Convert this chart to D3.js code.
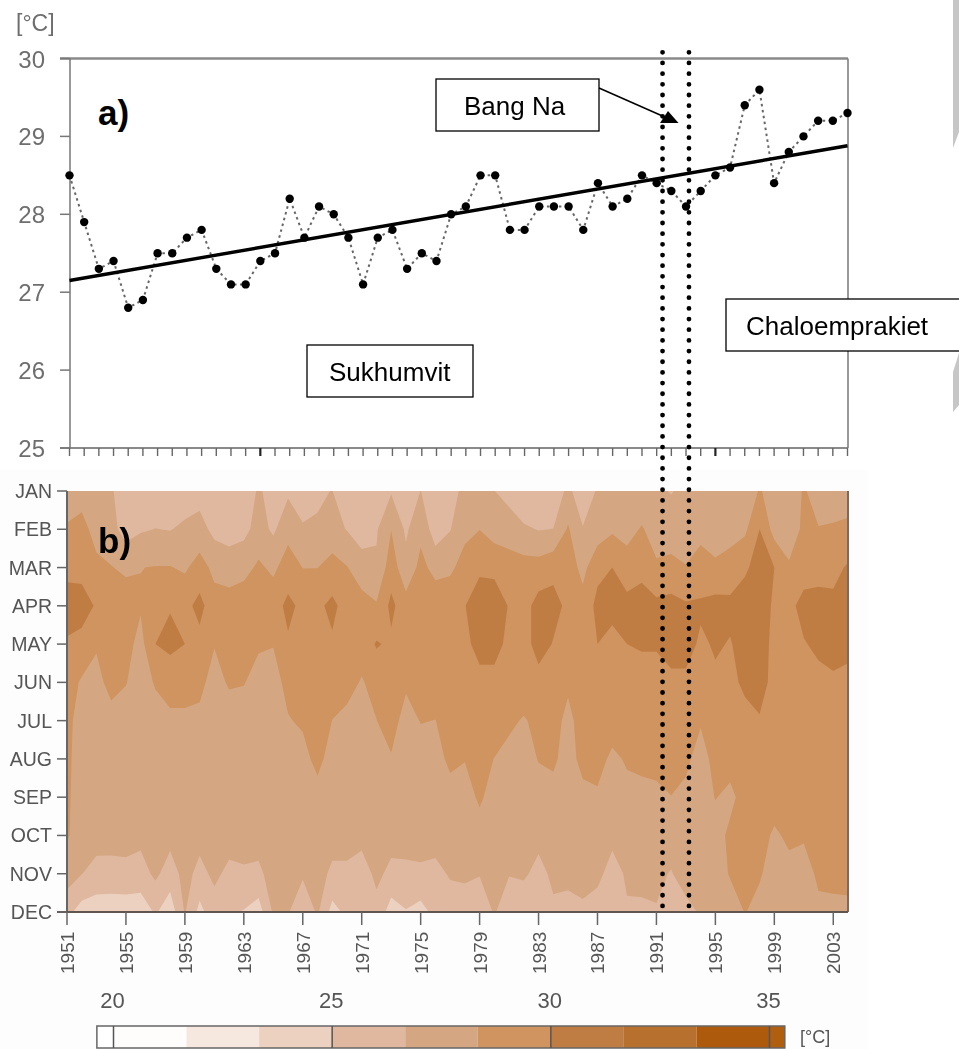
<!DOCTYPE html>
<html>
<head>
<meta charset="utf-8">
<script src="https://cdn.jsdelivr.net/npm/d3@7"></script>
<style>
  html, body { margin: 0; padding: 0; background: #fff; }
  svg { display: block; font-family: "Liberation Sans", Arial, sans-serif; }
  .soft { filter: blur(0.45px); }
</style>
</head>
<body>
<svg id="chart" width="959" height="1049"></svg>
<script>
// annual mean temperature, 1951-2004
var annualTemp = [28.5, 27.9, 27.3, 27.4, 26.8, 26.9, 27.5, 27.5, 27.7, 27.8,
    27.3, 27.1, 27.1, 27.4, 27.5, 28.2, 27.7, 28.1, 28.0, 27.7,
    27.1, 27.7, 27.8, 27.3, 27.5, 27.4, 28.0, 28.1, 28.5, 28.5,
    27.8, 27.8, 28.1, 28.1, 28.1, 27.8, 28.4, 28.1, 28.2, 28.5,
    28.4, 28.3, 28.1, 28.3, 28.5, 28.6, 29.4, 29.6, 28.4, 28.8,
    29.0, 29.2, 29.2, 29.3];
var trendYears = [1951, 2004];
var trendValues = [27.15, 28.88];
var yTicksA = [25, 26, 27, 28, 29, 30];
var heavyTicks = [1964, 1995];
var eventYears = [1991.4, 1993.2];

var months = ["JAN", "FEB", "MAR", "APR", "MAY", "JUN", "JUL", "AUG", "SEP", "OCT", "NOV", "DEC"];
var yearTicks = [1951, 1955, 1959, 1963, 1967, 1971, 1975, 1979, 1983, 1987, 1991, 1995, 1999, 2003];

// monthly temperature, one line per year (JAN..DEC)
var monthlyTemp = [
    [27.5,28.5,29.5,30.8,29.8,29.2,28.8,28.7,28.6,28.5,27.5,25.5],
    [27.5,29.0,29.7,30.4,29.7,28.1,27.6,27.5,27.5,27.5,26.7,24.3],
    [27.2,27.6,28.8,29.9,28.5,27.8,27.5,27.4,27.4,27.2,26.2,24.0],
    [27.0,27.2,28.4,29.7,29.8,28.9,27.7,27.4,27.4,27.3,26.1,24.0],
    [25.0,26.0,28.0,29.3,28.9,28.4,27.6,27.4,27.4,27.3,26.2,24.0],
    [25.3,26.5,28.3,28.5,27.8,27.5,27.5,27.4,27.4,27.1,26.0,24.0],
    [25.7,26.7,28.4,29.7,30.0,28.5,27.6,27.5,27.5,27.3,27.0,25.2],
    [25.5,26.6,28.4,29.9,30.4,29.0,28.0,27.5,27.5,27.2,25.9,24.0],
    [25.7,27.0,28.1,29.5,30.0,28.8,28.1,27.5,27.5,27.3,27.2,26.8],
    [26.0,27.3,29.0,30.5,29.5,28.7,28.0,27.6,27.5,27.2,26.2,24.5],
    [25.5,26.2,27.9,29.0,28.4,27.8,27.5,27.5,27.5,27.3,27.0,26.0],
    [25.4,25.9,27.6,29.0,29.1,28.5,27.6,27.5,27.5,27.3,26.3,25.2],
    [25.0,26.2,27.8,29.3,29.5,28.4,27.6,27.5,27.5,27.2,26.5,24.9],
    [27.0,27.3,28.6,29.4,28.5,27.8,27.5,27.5,27.5,27.2,26.4,24.2],
    [25.7,26.4,28.0,29.3,28.4,27.6,27.5,27.5,27.5,27.3,27.2,26.9],
    [26.4,27.8,29.1,30.4,29.8,28.9,28.2,27.5,27.5,27.3,27.2,26.8],
    [25.6,26.9,28.3,29.6,29.7,29.2,28.6,27.7,27.5,27.3,26.9,25.4],
    [26.5,26.8,28.3,29.7,29.9,29.5,29.5,28.9,27.6,27.4,27.2,26.9],
    [26.7,27.2,29.0,30.35,29.8,29.3,28.3,27.5,27.5,27.2,26.4,24.4],
    [25.6,26.6,28.4,29.4,29.4,28.9,27.9,27.5,27.5,27.2,26.4,25.4],
    [25.0,25.9,27.4,29.0,29.0,28.2,27.6,27.5,27.5,27.1,26.0,25.2],
    [25.3,26.5,26.9,28.5,30.15,28.9,28.3,27.5,27.5,27.2,27.0,26.2],
    [26.5,28.3,29.2,30.4,29.7,29.1,29.0,28.2,27.6,27.2,26.3,24.2],
    [25.3,26.4,27.2,29.0,29.5,28.6,27.7,27.5,27.5,27.3,26.3,24.9],
    [26.7,27.9,28.8,29.5,29.5,29.1,28.4,27.6,27.5,27.3,26.4,24.4],
    [25.3,25.8,27.8,29.4,29.6,29.3,28.3,27.7,27.5,27.2,26.3,25.5],
    [26.2,26.6,28.0,29.5,29.7,29.4,29.1,28.7,27.7,27.3,26.8,26.0],
    [27.0,27.9,29.0,29.95,29.5,29.3,28.6,28.4,27.6,27.2,26.9,26.0],
    [26.7,28.3,29.7,30.9,30.7,29.4,29.2,28.8,28.6,27.6,26.8,25.0],
    [26.7,27.6,29.6,30.9,30.7,29.4,29.1,28.3,27.6,27.3,27.2,26.9],
    [26.0,27.6,29.0,29.9,29.5,29.3,28.6,27.9,27.6,27.3,26.8,25.0],
    [25.4,26.9,29.0,29.4,29.2,29.2,28.2,27.7,27.5,27.3,27.0,25.1],
    [25.2,26.6,29.0,30.6,30.8,29.3,28.7,28.4,27.7,27.3,26.0,25.0],
    [25.2,26.7,29.5,30.6,29.9,29.4,28.9,28.6,27.8,27.3,27.1,26.3],
    [27.2,28.5,29.3,29.6,29.6,28.6,27.9,27.7,27.5,27.3,27.1,26.1],
    [25.3,26.8,27.8,29.0,29.7,29.4,29.0,28.8,27.9,27.4,27.2,26.4],
    [26.9,27.4,29.6,30.4,30.0,29.6,29.3,28.9,28.1,27.4,27.1,25.9],
    [26.9,28.1,30.0,30.3,29.7,29.3,29.1,28.0,27.5,27.1,26.0,25.1],
    [27.0,27.6,29.3,30.4,30.0,29.4,29.0,28.5,27.9,27.3,26.9,26.5],
    [27.0,28.5,29.6,30.6,30.1,29.6,29.1,28.6,28.0,27.4,27.1,26.4],
    [26.9,27.5,28.6,30.4,30.1,29.6,29.3,28.9,27.9,27.2,26.9,26.6],
    [26.6,27.3,28.9,30.5,30.7,29.6,29.4,29.0,28.3,27.2,26.6,25.3],
    [27.0,27.5,28.4,30.2,30.7,29.6,29.5,28.7,27.9,27.4,27.2,26.3],
    [27.3,28.0,28.8,30.3,29.7,29.6,28.5,27.6,27.4,27.3,27.1,26.8],
    [27.2,27.0,28.8,30.5,30.2,29.7,29.3,28.9,28.4,27.6,27.3,27.1],
    [27.4,27.7,29.0,30.4,29.9,29.6,29.3,29.0,27.9,28.7,28.5,27.2],
    [26.9,28.0,29.8,30.6,30.6,30.3,29.5,29.2,29.0,28.9,28.7,28.4],
    [28.5,30.0,30.5,31.0,30.7,30.5,29.9,29.5,29.2,28.9,28.5,27.8],
    [27.5,27.7,30.0,29.7,29.6,29.6,29.4,29.3,29.0,28.1,27.6,26.8],
    [27.3,27.6,28.5,29.6,29.3,29.6,29.5,29.3,29.0,28.6,27.9,27.3],
    [28.5,28.6,29.3,30.5,29.9,29.5,29.4,29.3,29.0,28.5,27.7,27.0],
    [27.6,28.4,29.5,30.5,30.3,29.6,29.4,29.3,29.1,28.8,28.6,28.0],
    [27.5,28.5,29.5,30.4,30.7,29.7,29.5,29.4,29.2,29.0,28.8,27.9],
    [27.7,28.6,30.2,30.7,30.4,29.6,29.5,29.4,29.3,29.2,28.9,27.9]
];

// colour classes, lower edges of legend boxes
var legendBreaks = [19.62, 20, 21.67, 23.33, 25, 26.67, 28.33, 30, 31.67, 33.33, 35, 35.35];
var legendColors = ["#ffffff", "#fffdfc", "#f6e8df", "#ecd1c0", "#dfb89f", "#d4a782", "#cf945f", "#c07d43", "#b8702e", "#ad5a0c", "#b05e10"];
var legendTicks = [20, 25, 30, 35];

var svg = d3.select("#chart");

// leftovers of the scanned page
svg.append("rect").attr("x", 0).attr("y", 470).attr("width", 868).attr("height", 579).attr("fill", "#fdfdfd");
svg.append("path").attr("d", "M953,0H959V132L953,148Z").attr("fill", "#c6c6c6");
svg.append("path").attr("d", "M953,372L959,353V405L953,412Z").attr("fill", "#c6c6c6");

// ---- panel a
var xA = d3.scaleLinear().domain([1951, 2004]).range([69.5, 847.5]);
var yA = d3.scaleLinear().domain([25, 30]).range([448, 58.5]);

var a = svg.append("g").attr("class", "panel-a");
var axA = a.append("g").attr("class", "soft");

axA.append("line").attr("x1", 60).attr("x2", 848).attr("y1", yA(30)).attr("y2", yA(30))
    .attr("stroke", "#8a8a8a").attr("stroke-width", 2.5);
axA.append("line").attr("x1", 60).attr("x2", 848).attr("y1", yA(25)).attr("y2", yA(25))
    .attr("stroke", "#8a8a8a").attr("stroke-width", 2);
axA.append("line").attr("x1", 70).attr("x2", 70).attr("y1", yA(30)).attr("y2", yA(25))
    .attr("stroke", "#777").attr("stroke-width", 1.5);
axA.append("line").attr("x1", 848).attr("x2", 848).attr("y1", yA(30)).attr("y2", yA(25))
    .attr("stroke", "#777").attr("stroke-width", 1.5);

axA.selectAll(".ytick").data(yTicksA).enter().append("line")
    .attr("x1", 60).attr("x2", 70)
    .attr("y1", function(d) { return yA(d); })
    .attr("y2", function(d) { return yA(d); })
    .attr("stroke", "#777").attr("stroke-width", 1.5);

axA.selectAll(".ylab").data(yTicksA).enter().append("text")
    .attr("x", 45)
    .attr("y", function(d) { return yA(d) + 9; })
    .attr("text-anchor", "end")
    .attr("font-size", 24)
    .attr("fill", "#6e6e6e")
    .text(function(d) { return d; });

axA.append("text").attr("x", 16).attr("y", 31).attr("font-size", 23).attr("fill", "#6e6e6e").text("[°C]");

axA.selectAll(".xtick").data(d3.range(1951, 2005)).enter().append("line")
    .attr("x1", function(d) { return xA(d); })
    .attr("x2", function(d) { return xA(d); })
    .attr("y1", yA(25))
    .attr("y2", yA(25) + 8)
    .attr("stroke", function(d) { return heavyTicks.indexOf(d) >= 0 ? "#222" : "#666"; })
    .attr("stroke-width", function(d) { return heavyTicks.indexOf(d) >= 0 ? 2.2 : 1.4; });

var years = annualTemp.map(function(d, i) { return 1951 + i; });

var line = d3.line()
    .x(function(d, i) { return xA(years[i]); })
    .y(function(d) { return yA(d); });

a.append("path").datum(annualTemp).attr("d", line)
    .attr("fill", "none").attr("stroke", "#666")
    .attr("stroke-width", 2).attr("stroke-dasharray", "2.5 3.5");

a.append("line")
    .attr("x1", xA(trendYears[0])).attr("x2", xA(trendYears[1]))
    .attr("y1", yA(trendValues[0])).attr("y2", yA(trendValues[1]))
    .attr("stroke", "#000").attr("stroke-width", 3.4);

a.selectAll("circle").data(annualTemp).enter().append("circle")
    .attr("cx", function(d, i) { return xA(years[i]); })
    .attr("cy", function(d) { return yA(d); })
    .attr("r", 4.2)
    .attr("fill", "#000");

svg.append("text").attr("x", 98).attr("y", 125).attr("font-size", 35).attr("font-weight", "bold").text("a)");

// ---- panel b
var xB = d3.scaleLinear().domain([1951, 2004]).range([67, 848]);
var yB = d3.scaleLinear().domain([0, 11]).range([491, 912]);

var nx = monthlyTemp.length, ny = months.length;
var flat = [];
for (var j = 0; j < ny; j++)
    for (var i = 0; i < nx; i++)
        flat.push(monthlyTemp[i][j]);

var contours = d3.contours()
    .size([nx, ny])
    .thresholds(legendBreaks.slice(1, -1))(flat);

// grid cell centres sit at +0.5 in contour space
var projection = d3.geoTransform({
    point: function(px, py) {
        this.stream.point(xB(1951 + px - 0.5), yB(py - 0.5));
    }
});
var geoPath = d3.geoPath(projection);

svg.append("clipPath").attr("id", "clipb").append("rect")
    .attr("x", xB(1951)).attr("y", yB(0))
    .attr("width", xB(2004) - xB(1951)).attr("height", yB(11) - yB(0));

var b = svg.append("g").attr("clip-path", "url(#clipb)");
b.selectAll("path").data(contours).enter().append("path")
    .attr("d", geoPath)
    .attr("fill", function(d) { return legendColors[legendBreaks.indexOf(d.value)]; });

var axB = svg.append("g").attr("class", "soft");

axB.append("line").attr("x1", xB(1951)).attr("x2", xB(1951)).attr("y1", yB(0)).attr("y2", yB(11))
    .attr("stroke", "#666").attr("stroke-width", 2);
axB.append("line").attr("x1", xB(2004)).attr("x2", xB(2004)).attr("y1", yB(0)).attr("y2", yB(11))
    .attr("stroke", "#7d6a5c").attr("stroke-width", 2);
axB.append("line").attr("x1", 57).attr("x2", xB(2004)).attr("y1", yB(11)).attr("y2", yB(11))
    .attr("stroke", "#5f5650").attr("stroke-width", 2);

axB.selectAll(".mtick").data(months).enter().append("line")
    .attr("x1", 57).attr("x2", xB(1951))
    .attr("y1", function(d, i) { return yB(i); })
    .attr("y2", function(d, i) { return yB(i); })
    .attr("stroke", "#666").attr("stroke-width", 1.5);

axB.selectAll(".mlab").data(months).enter().append("text")
    .attr("x", 52)
    .attr("y", function(d, i) { return yB(i) + 7; })
    .attr("text-anchor", "end")
    .attr("font-size", 19.5)
    .attr("fill", "#555")
    .text(function(d) { return d; });

axB.selectAll(".ytick").data(yearTicks).enter().append("line")
    .attr("x1", function(d) { return xB(d); })
    .attr("x2", function(d) { return xB(d); })
    .attr("y1", yB(11))
    .attr("y2", 925)
    .attr("stroke", "#666").attr("stroke-width", 1.5);

axB.selectAll(".ylab").data(yearTicks).enter().append("text")
    .attr("transform", function(d) { return "translate(" + (xB(d) + 7) + ",974) rotate(-90)"; })
    .attr("font-size", 19)
    .attr("fill", "#555")
    .text(function(d) { return d; });

svg.append("text").attr("x", 98).attr("y", 553).attr("font-size", 35).attr("font-weight", "bold").text("b)");

// ---- legend
var xL = d3.scaleLinear().domain([20, 35]).range([113.5, 769.5]);
var leg = svg.append("g").attr("class", "soft");

leg.selectAll("rect").data(legendColors).enter().append("rect")
    .attr("x", function(d, i) { return xL(legendBreaks[i]); })
    .attr("y", 1026)
    .attr("width", function(d, i) { return xL(legendBreaks[i + 1]) - xL(legendBreaks[i]); })
    .attr("height", 22)
    .attr("fill", function(d) { return d; });

leg.append("rect")
    .attr("x", xL(legendBreaks[0])).attr("y", 1026)
    .attr("width", xL(35.35) - xL(legendBreaks[0])).attr("height", 22)
    .attr("fill", "none").attr("stroke", "#666").attr("stroke-width", 1.5);

leg.selectAll(".ltick").data(legendTicks).enter().append("line")
    .attr("x1", function(d) { return xL(d); })
    .attr("x2", function(d) { return xL(d); })
    .attr("y1", 1026).attr("y2", 1048)
    .attr("stroke", "#555").attr("stroke-width", 1.5);

leg.selectAll(".llab").data(legendTicks).enter().append("text")
    .attr("x", function(d) { return xL(d) - 1; })
    .attr("y", 1008)
    .attr("text-anchor", "middle")
    .attr("font-size", 22)
    .attr("fill", "#555")
    .text(function(d) { return d; });

leg.append("text").attr("x", 800).attr("y", 1043).attr("font-size", 18).attr("fill", "#555").text("[°C]");

// ---- station markers, drawn over both panels
svg.selectAll(".event").data(eventYears).enter().append("line")
    .attr("x1", function(d) { return xA(d); })
    .attr("x2", function(d) { return xA(d); })
    .attr("y1", 52.3)
    .attr("y2", 907)
    .attr("stroke", "#000")
    .attr("stroke-width", 4.8)
    .attr("stroke-linecap", "round")
    .attr("stroke-dasharray", "0 10.67");

// ---- station boxes
var stations = ["Sukhumvit", "Bang Na", "Chaloemprakiet"];
var boxX = [307, 436, 726], boxY = [345, 79, 299], boxW = [166, 163, 240], textX = [329, 464, 746];

var boxes = svg.selectAll(".box").data(stations).enter().append("g");
boxes.append("rect")
    .attr("x", function(d, i) { return boxX[i]; })
    .attr("y", function(d, i) { return boxY[i]; })
    .attr("width", function(d, i) { return boxW[i]; })
    .attr("height", 52)
    .attr("fill", "#fff").attr("stroke", "#000").attr("stroke-width", 1.3);
boxes.append("text")
    .attr("x", function(d, i) { return textX[i]; })
    .attr("y", function(d, i) { return boxY[i] + 36; })
    .attr("font-size", 26)
    .attr("fill", "#000")
    .text(function(d) { return d; });

svg.append("line").attr("x1", 599).attr("y1", 88).attr("x2", 667).attr("y2", 118)
    .attr("stroke", "#000").attr("stroke-width", 1.5);
svg.append("path").attr("d", "M678.5,123L668,111L660,123Z").attr("fill", "#000");
</script>
</body>
</html>
